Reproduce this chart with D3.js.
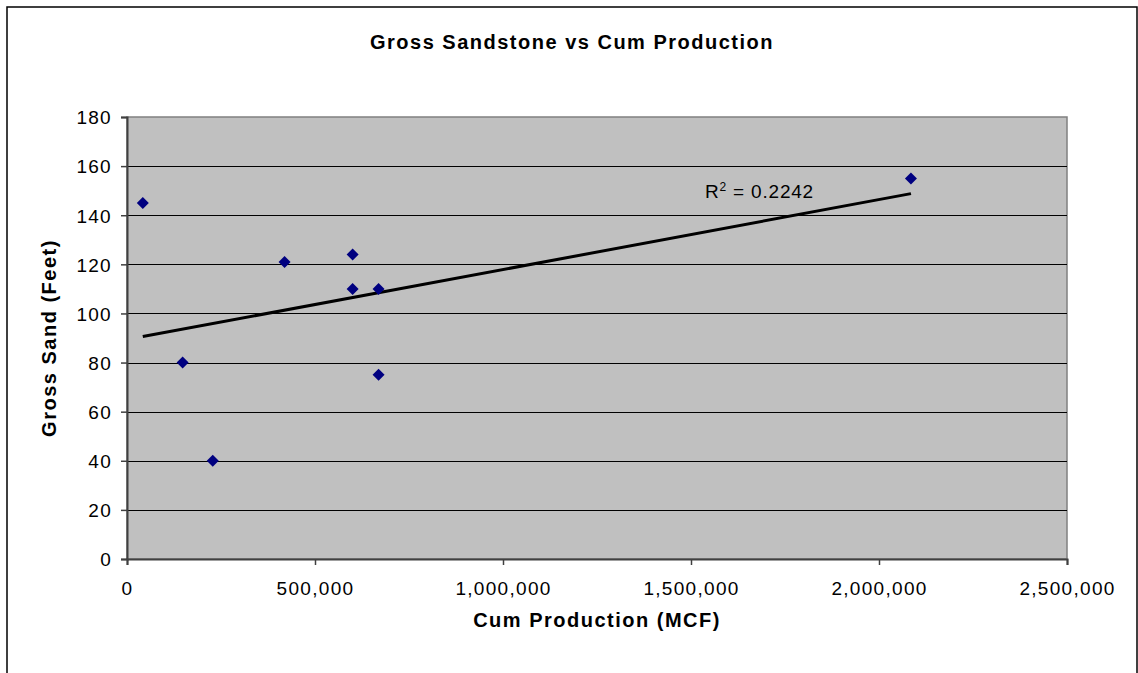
<!DOCTYPE html>
<html>
<head>
<meta charset="utf-8">
<title>Gross Sandstone vs Cum Production</title>
<style>
  body { margin: 0; background: #fff; }
  svg text { font-family: "Liberation Sans", Arial, sans-serif; fill: #000; }
</style>
<script src="https://d3js.org/d3.v7.min.js"></script>
</head>
<body>
<div id="chart"></div>
<script>
// ******* Data *******
const cumProduction = [42000, 148000, 228000, 419000, 600000, 600000, 669000, 669000, 2085000];
const grossSand     = [145, 80, 40, 121, 124, 110, 110, 75, 155];
const xTicks = [0, 500000, 1000000, 1500000, 2000000, 2500000];
const yTicks = [0, 20, 40, 60, 80, 100, 120, 140, 160, 180];
const r2Label = "0.2242";

const points = cumProduction.map((x, i) => ({x: x, y: grossSand[i]}));

// ******* Layout *******
const width = 1138, height = 673;
const plot = {left: 127, right: 1067, top: 117, bottom: 559};

const svg = d3.select("#chart").append("svg")
    .attr("width", width)
    .attr("height", height);

// outer chart border (bottom edge runs off the picture)
svg.append("rect")
    .attr("x", 7).attr("y", 7)
    .attr("width", 1130).attr("height", 700)
    .attr("fill", "#fff")
    .attr("stroke", "#000")
    .attr("stroke-width", 1.5);

// ******* Scales *******
const x = d3.scaleLinear().domain([0, 2500000]).range([plot.left, plot.right]);
const y = d3.scaleLinear().domain([0, 180]).range([plot.bottom, plot.top]);

// plot area
svg.append("rect")
    .attr("x", plot.left).attr("y", plot.top)
    .attr("width", plot.right - plot.left)
    .attr("height", plot.bottom - plot.top)
    .attr("fill", "#c0c0c0")
    .attr("stroke", "#808080")
    .attr("stroke-width", 1.5);

// gridlines
svg.append("g").selectAll("line")
    .data(yTicks.filter(d => d > 0 && d < 180))
    .join("line")
    .attr("x1", plot.left).attr("x2", plot.right)
    .attr("y1", d => Math.round(y(d)) + 0.5)
    .attr("y2", d => Math.round(y(d)) + 0.5)
    .attr("stroke", "#000")
    .attr("stroke-width", 1);

// ******* Axes *******
const yAxis = svg.append("g")
    .attr("transform", `translate(${plot.left},0)`)
    .call(d3.axisLeft(y).tickValues(yTicks).tickSize(6).tickPadding(9).tickFormat(d3.format("d")));
const xAxis = svg.append("g")
    .attr("transform", `translate(0,${plot.bottom})`)
    .call(d3.axisBottom(x).tickValues(xTicks).tickSize(6).tickPadding(17).tickFormat(d3.format(",")));

[xAxis, yAxis].forEach(ax => {
  ax.select(".domain").attr("stroke", "#404040").attr("stroke-width", 2);
  ax.selectAll(".tick line").attr("stroke", "#404040").attr("stroke-width", 1.5);
  ax.selectAll(".tick text")
      .attr("font-size", 19)
      .attr("letter-spacing", 1.3)
      .attr("font-family", "Liberation Sans, Arial, sans-serif")
      .attr("fill", "#000");
});
yAxis.selectAll(".tick text").attr("dy", "0.36em");

// ******* Trendline (least squares) *******
const mx = d3.mean(cumProduction), my = d3.mean(grossSand);
const sxy = d3.sum(points, p => (p.x - mx) * (p.y - my));
const sxx = d3.sum(points, p => (p.x - mx) * (p.x - mx));
const slope = sxy / sxx, intercept = my - slope * mx;
const xExt = d3.extent(cumProduction);

svg.append("line")
    .attr("x1", x(xExt[0])).attr("y1", y(intercept + slope * xExt[0]))
    .attr("x2", x(xExt[1])).attr("y2", y(intercept + slope * xExt[1]))
    .attr("stroke", "#000")
    .attr("stroke-width", 3);

// ******* Points *******
svg.append("g").selectAll("path")
    .data(points)
    .join("path")
    .attr("transform", d => `translate(${x(d.x)},${y(d.y)})`)
    .attr("d", "M0,-6L6,0L0,6L-6,0Z")
    .attr("fill", "#000080");

// R squared label
const r2 = svg.append("text")
    .attr("x", 705).attr("y", 198)
    .attr("font-size", 19)
    .attr("letter-spacing", 0.8);
r2.append("tspan").text("R");
r2.append("tspan").attr("font-size", 12).attr("dy", -7).text("2");
r2.append("tspan").attr("dy", 7).text(" = " + r2Label);

// ******* Titles *******
svg.append("text")
    .attr("x", 572).attr("y", 49)
    .attr("text-anchor", "middle")
    .attr("font-size", 20)
    .attr("font-weight", "bold")
    .attr("letter-spacing", 1.5)
    .text("Gross Sandstone vs Cum Production");

svg.append("text")
    .attr("x", (plot.left + plot.right) / 2).attr("y", 627)
    .attr("text-anchor", "middle")
    .attr("font-size", 20)
    .attr("font-weight", "bold")
    .attr("letter-spacing", 1.5)
    .text("Cum Production (MCF)");

svg.append("text")
    .attr("transform", `translate(56,${(plot.top + plot.bottom) / 2}) rotate(-90)`)
    .attr("text-anchor", "middle")
    .attr("font-size", 20)
    .attr("font-weight", "bold")
    .attr("letter-spacing", 1.5)
    .text("Gross Sand (Feet)");
</script>
</body>
</html>
